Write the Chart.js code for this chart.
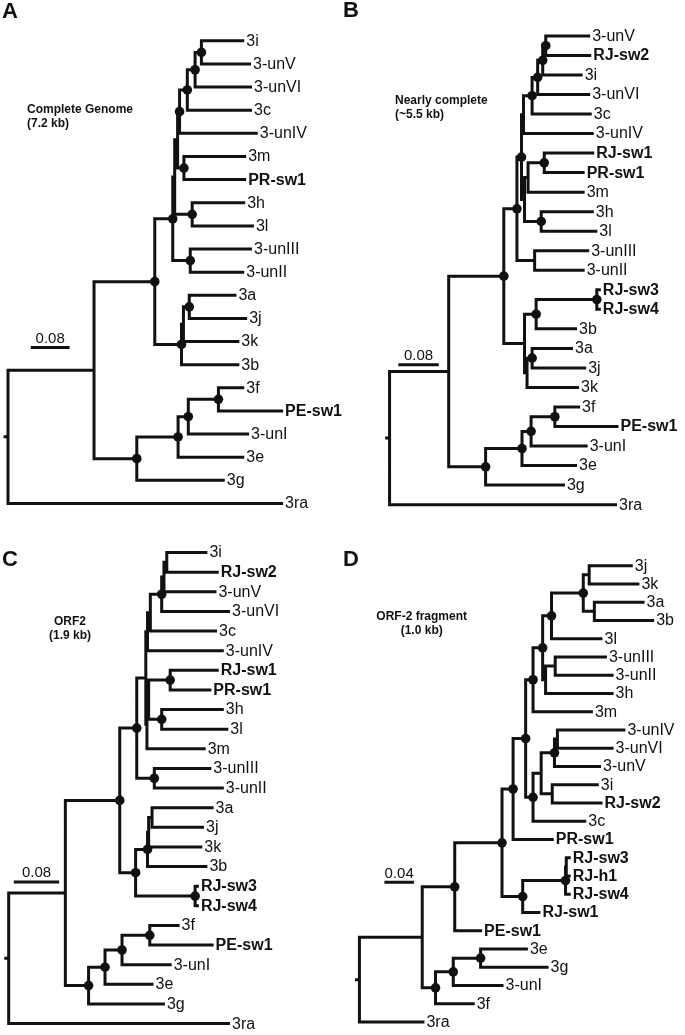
<!DOCTYPE html>
<html>
<head>
<meta charset="utf-8">
<script src="https://cdn.jsdelivr.net/npm/chart.js@4/dist/chart.umd.min.js"></script>
<style>
    html, body { margin: 0; padding: 0; background: #fff; }
    #wrap { position: relative; width: 685px; height: 1035px; }
    canvas { position: absolute; }
</style>
</head>
<body>
<div id="wrap">
    <canvas id="treeA" width="342" height="517" style="left:0;top:0"></canvas>
    <canvas id="treeB" width="343" height="517" style="left:342px;top:0"></canvas>
    <canvas id="treeC" width="342" height="518" style="left:0;top:517px"></canvas>
    <canvas id="treeD" width="343" height="518" style="left:342px;top:517px"></canvas>
</div>
<script>
// Tip labels (top to bottom), depth of each tip from the root (subst./site)
// Internal nodes: [id, depth, children]; supported = nodes marked with a dot
const leavesA = ["3i", "3-unV", "3-unVI", "3c", "3-unIV", "3m", "PR-sw1", "3h", "3l", "3-unIII", "3-unII",
    "3a", "3j", "3k", "3b", "3f", "PE-sw1", "3-unI", "3e", "3g", "3ra"];
const tipDepthA = [0.483, 0.497, 0.499, 0.499, 0.511, 0.487, 0.487, 0.485, 0.503, 0.499, 0.483,
    0.467, 0.489, 0.473, 0.473, 0.483, 0.563, 0.493, 0.483, 0.443, 0.563];
const nodesA = [
    ["root", 0, ["n1", "3ra"]],
    ["n1", 0.177, ["ing", "outg"]],
    ["ing", 0.302, ["X", "abjk"]],
    ["X", 0.339, ["Z", "u32"]],
    ["Z", 0.343, ["W", "hl"]],
    ["W", 0.349, ["up", "mPR"]],
    ["up", 0.353, ["c4", "3-unIV"]],
    ["c4", 0.369, ["c3", "3c"]],
    ["c3", 0.385, ["c2", "3-unVI"]],
    ["c2", 0.398, ["3i", "3-unV"]],
    ["mPR", 0.362, ["3m", "PR-sw1"]],
    ["hl", 0.379, ["3h", "3l"]],
    ["u32", 0.375, ["3-unIII", "3-unII"]],
    ["abjk", 0.357, ["ajk", "3b"]],
    ["ajk", 0.361, ["aj", "3k"]],
    ["aj", 0.373, ["3a", "3j"]],
    ["outg", 0.265, ["oe", "3g"]],
    ["oe", 0.350, ["o1", "3e"]],
    ["o1", 0.371, ["fpe", "3-unI"]],
    ["fpe", 0.433, ["3f", "PE-sw1"]]
];
const supportedA = ["c2", "c3", "c4", "up", "mPR", "hl", "X", "u32", "ing", "aj", "abjk", "fpe", "o1", "oe", "outg"];

const leavesB = ["3-unV", "RJ-sw2", "3i", "3-unVI", "3c", "3-unIV", "RJ-sw1", "PR-sw1", "3m", "3h", "3l",
    "3-unIII", "3-unII", "RJ-sw3", "RJ-sw4", "3b", "3a", "3j", "3k", "3f", "PE-sw1", "3-unI", "3e", "3g", "3ra"];
const tipDepthB = [0.394, 0.396, 0.379, 0.394, 0.397, 0.401, 0.402, 0.383, 0.383, 0.401, 0.408,
    0.392, 0.383, 0.415, 0.415, 0.368, 0.360, 0.386, 0.372, 0.374, 0.450, 0.389, 0.368, 0.344, 0.447];
const nodesB = [
    ["root", 0, ["n1", "3ra"]],
    ["n1", 0.117, ["ing", "outg"]],
    ["ing", 0.226, ["X", "L"]],
    ["X", 0.252, ["Y", "u32"]],
    ["Y", 0.261, ["up", "M"]],
    ["up", 0.265, ["c4", "3-unIV"]],
    ["c4", 0.282, ["c3", "3c"]],
    ["c3", 0.293, ["c2", "3-unVI"]],
    ["c2", 0.303, ["c1", "3i"]],
    ["c1", 0.309, ["3-unV", "RJ-sw2"]],
    ["M", 0.267, ["rpm", "hl"]],
    ["rpm", 0.274, ["rp", "3m"]],
    ["rp", 0.306, ["RJ-sw1", "PR-sw1"]],
    ["hl", 0.300, ["3h", "3l"]],
    ["u32", 0.287, ["3-unIII", "3-unII"]],
    ["L", 0.267, ["r34b", "ajk"]],
    ["r34b", 0.290, ["r34", "3b"]],
    ["r34", 0.410, ["RJ-sw3", "RJ-sw4"]],
    ["ajk", 0.272, ["aj", "3k"]],
    ["aj", 0.282, ["3a", "3j"]],
    ["outg", 0.190, ["oe", "3g"]],
    ["oe", 0.262, ["o1", "3e"]],
    ["o1", 0.280, ["fpe", "3-unI"]],
    ["fpe", 0.327, ["3f", "PE-sw1"]]
];
const supportedB = ["c1", "c2", "c3", "c4", "Y", "rp", "X", "hl", "ing", "r34", "r34b", "aj", "fpe", "o1", "oe", "outg"];

const leavesC = ["3i", "RJ-sw2", "3-unV", "3-unVI", "3c", "3-unIV", "RJ-sw1", "PR-sw1", "3h", "3l", "3m",
    "3-unIII", "3-unII", "3a", "3j", "3k", "3b", "RJ-sw3", "RJ-sw4", "3f", "PE-sw1", "3-unI", "3e", "3g", "3ra"];
const tipDepthC = [0.348, 0.368, 0.364, 0.388, 0.365, 0.377, 0.368, 0.355, 0.377, 0.385, 0.345,
    0.355, 0.377, 0.359, 0.342, 0.339, 0.348, 0.333, 0.333, 0.299, 0.359, 0.285, 0.253, 0.273, 0.388];
const nodesC = [
    ["root", 0, ["n1", "3ra"]],
    ["n1", 0.100, ["ing", "outg"]],
    ["ing", 0.196, ["X", "L"]],
    ["X", 0.226, ["Y", "u32"]],
    ["Y", 0.242, ["up", "M"]],
    ["up", 0.245, ["c3", "3-unIV"]],
    ["c3", 0.250, ["c2", "3c"]],
    ["c2", 0.270, ["c1", "3-unVI"]],
    ["c1", 0.274, ["c0", "3-unV"]],
    ["c0", 0.279, ["3i", "RJ-sw2"]],
    ["M", 0.244, ["mm", "3m"]],
    ["mm", 0.247, ["rp", "hl"]],
    ["rp", 0.285, ["RJ-sw1", "PR-sw1"]],
    ["hl", 0.270, ["3h", "3l"]],
    ["u32", 0.257, ["3-unIII", "3-unII"]],
    ["L", 0.224, ["abjk", "r34"]],
    ["abjk", 0.245, ["ajk", "3b"]],
    ["ajk", 0.247, ["aj", "3k"]],
    ["aj", 0.253, ["3a", "3j"]],
    ["r34", 0.329, ["RJ-sw3", "RJ-sw4"]],
    ["outg", 0.141, ["oe", "3g"]],
    ["oe", 0.170, ["o1", "3e"]],
    ["o1", 0.200, ["fpe", "3-unI"]],
    ["fpe", 0.249, ["3f", "PE-sw1"]]
];
const supportedC = ["c2", "rp", "hl", "X", "u32", "ing", "L", "abjk", "r34", "fpe", "o1", "oe", "outg"];

const leavesD = ["3j", "3k", "3a", "3b", "3l", "3-unIII", "3-unII", "3h", "3m", "3-unIV", "3-unVI", "3-unV",
    "3i", "RJ-sw2", "3c", "PR-sw1", "RJ-sw3", "RJ-h1", "RJ-sw4", "RJ-sw1", "PE-sw1", "3e", "3g", "3-unI", "3f", "3ra"];
const tipDepthD = [0.368, 0.377, 0.384, 0.397, 0.327, 0.333, 0.342, 0.342, 0.314, 0.358, 0.342, 0.325,
    0.322, 0.327, 0.305, 0.261, 0.284, 0.284, 0.284, 0.243, 0.164, 0.226, 0.254, 0.193, 0.154, 0.086];
const nodesD = [
    ["root", 0, ["n1", "3ra"]],
    ["n1", 0.085, ["ing", "outg"]],
    ["ing", 0.129, ["big", "PE-sw1"]],
    ["big", 0.193, ["U", "rj"]],
    ["U", 0.208, ["V", "PR-sw1"]],
    ["V", 0.225, ["W", "Q"]],
    ["W", 0.235, ["K", "3m"]],
    ["K", 0.248, ["G1l", "h32"]],
    ["G1l", 0.260, ["G1", "3l"]],
    ["G1", 0.303, ["jk", "ab"]],
    ["jk", 0.311, ["3j", "3k"]],
    ["ab", 0.318, ["3a", "3b"]],
    ["h32", 0.252, ["u32", "3h"]],
    ["u32", 0.265, ["3-unIII", "3-unII"]],
    ["Q", 0.235, ["Q1", "3c"]],
    ["Q1", 0.246, ["vv", "iR"]],
    ["vv", 0.264, ["v46", "3-unV"]],
    ["v46", 0.268, ["3-unIV", "3-unVI"]],
    ["iR", 0.261, ["3i", "RJ-sw2"]],
    ["rj", 0.221, ["rjh", "RJ-sw1"]],
    ["rjh", 0.279, ["rj3h", "RJ-sw4"]],
    ["rj3h", 0.280, ["RJ-sw3", "RJ-h1"]],
    ["outg", 0.103, ["oo", "3f"]],
    ["oo", 0.127, ["eg", "3-unI"]],
    ["eg", 0.164, ["3e", "3g"]]
];
const supportedD = ["G1", "G1l", "K", "W", "V", "vv", "Q", "U", "big", "rjh", "rj", "ing", "eg", "oo", "outg"];

// isolates from this study are set in bold
const studyIsolates = ["PR-sw1", "PE-sw1", "RJ-sw1", "RJ-sw2", "RJ-sw3", "RJ-sw4", "RJ-h1"];
const scaleBars = [0.08, 0.08, 0.08, 0.04];
const panelTitles = [
    ["Complete Genome", "(7.2 kb)"],
    ["Nearly complete", "(~5.5 kb)"],
    ["ORF2", "(1.9 kb)"],
    ["ORF-2 fragment", "(1.0 kb)"]
];

// page geometry of each panel (pixels)
const panels = [
    { canvas: "treeA", letter: "A", leaves: leavesA, tips: tipDepthA, nodes: nodesA, dots: supportedA,
      box: [0, 0, 342, 517], rootPx: 3.3, pxPerUnit: 500, leafTop: 36.7, leafStep: 23.57,
      barAt: [26.7, 349.3], letterAt: [2, 12], titleAt: [27, 110], titleAlign: "left" },
    { canvas: "treeB", letter: "B", leaves: leavesB, tips: tipDepthB, nodes: nodesB, dots: supportedB,
      box: [342, 0, 343, 517], rootPx: 386, pxPerUnit: 520, leafTop: 31.7, leafStep: 19.9,
      barAt: [395, 366.7], letterAt: [343, 11], titleAt: [395, 101], titleAlign: "left" },
    { canvas: "treeC", letter: "C", leaves: leavesC, tips: tipDepthC, nodes: nodesC, dots: supportedC,
      box: [0, 517, 342, 518], rootPx: 4, pxPerUnit: 583, leafTop: 548.3, leafStep: 20,
      barAt: [9.3, 884], letterAt: [2, 560], titleAt: [70, 622], titleAlign: "center" },
    { canvas: "treeD", letter: "D", leaves: leavesD, tips: tipDepthD, nodes: nodesD, dots: supportedD,
      box: [342, 517, 343, 518], rootPx: 355, pxPerUnit: 760, leafTop: 561.7, leafStep: 18.6,
      barAt: [380.7, 884.3], letterAt: [343, 560], titleAt: [421.7, 617], titleAlign: "center" }
];

const FONT = '"Liberation Sans", Arial, Helvetica, sans-serif';
const INK = "#111";

// place tips at their row, internal nodes half way between first and last child
function layoutTree(leaves, tips, nodes) {
    const pos = {};
    leaves.forEach(function (name, i) {
        pos[name] = { x: tips[i], y: i };
    });
    const byId = {};
    nodes.forEach(function (n) { byId[n[0]] = n; });
    function place(id) {
        if (pos[id]) return pos[id];
        const n = byId[id];
        const ys = n[2].map(function (c) { return place(c).y; });
        pos[id] = { x: n[1], y: (Math.min.apply(null, ys) + Math.max.apply(null, ys)) / 2 };
        return pos[id];
    }
    nodes.forEach(function (n) { place(n[0]); });
    return pos;
}

function branchPoints(pos, nodes, stem) {
    const pts = [];
    const gap = { x: null, y: null };
    nodes.forEach(function (n) {
        const p = pos[n[0]];
        const kids = n[2].map(function (c) { return pos[c]; }).sort(function (a, b) { return a.y - b.y; });
        const first = kids[0], last = kids[kids.length - 1];
        pts.push({ x: first.x, y: first.y }, { x: p.x, y: first.y }, { x: p.x, y: last.y }, { x: last.x, y: last.y }, gap);
        kids.slice(1, -1).forEach(function (k) {
            pts.push({ x: p.x, y: k.y }, { x: k.x, y: k.y }, gap);
        });
    });
    const r = pos["root"];
    pts.push({ x: stem, y: r.y }, { x: 0, y: r.y }, gap);
    return pts;
}

panels.forEach(function (pn, idx) {
    const pos = layoutTree(pn.leaves, pn.tips, pn.nodes);
    const left = pn.box[0], top = pn.box[1], w = pn.box[2], h = pn.box[3];
    const toX = function (px) { return (px - pn.rootPx) / pn.pxPerUnit; };
    const toY = function (py) { return (py - pn.leafTop) / pn.leafStep; };

    const barX = toX(pn.barAt[0]), barY = toY(pn.barAt[1]);
    const stem = toX(pn.rootPx - 3);

    const labelPlugin = {
        id: "treeText" + pn.letter,
        afterDatasetsDraw: function (chart) {
            const ctx = chart.ctx;
            const xs = chart.scales.x, ys = chart.scales.y;
            ctx.save();
            ctx.fillStyle = INK;
            ctx.textBaseline = "middle";
            ctx.textAlign = "left";
            pn.leaves.forEach(function (name, i) {
                const bold = studyIsolates.indexOf(name) >= 0;
                ctx.font = (bold ? "bold " : "") + "16px " + FONT;
                ctx.fillText(name, xs.getPixelForValue(pn.tips[i]) + 3.5, ys.getPixelForValue(i) + 0.5);
            });
            // scale bar label
            ctx.font = "15px " + FONT;
            ctx.textAlign = "center";
            ctx.textBaseline = "alphabetic";
            const bx0 = xs.getPixelForValue(barX), bx1 = xs.getPixelForValue(barX + scaleBars[idx]);
            ctx.fillText(String(scaleBars[idx]), (bx0 + bx1) / 2, ys.getPixelForValue(barY) - 4.5);
            // panel letter
            ctx.font = "bold 22px " + FONT;
            ctx.textAlign = "left";
            ctx.textBaseline = "middle";
            ctx.fillText(pn.letter, pn.letterAt[0] - left, pn.letterAt[1] - top);
            // panel title
            ctx.font = "bold 12px " + FONT;
            ctx.textAlign = pn.titleAlign;
            panelTitles[idx].forEach(function (line, k) {
                ctx.fillText(line, pn.titleAt[0] - left, pn.titleAt[1] - top + k * 14);
            });
            ctx.restore();
        }
    };

    new Chart(document.getElementById(pn.canvas).getContext("2d"), {
        type: "scatter",
        data: {
            datasets: [
                {
                    label: "branches",
                    data: branchPoints(pos, pn.nodes, stem),
                    showLine: true,
                    spanGaps: false,
                    borderColor: INK,
                    borderWidth: 3,
                    borderCapStyle: "square",
                    borderJoinStyle: "miter",
                    pointRadius: 0,
                    clip: false,
                },
                {
                    label: "scale",
                    data: [{ x: barX, y: barY }, { x: barX + scaleBars[idx], y: barY }],
                    showLine: true,
                    borderColor: INK,
                    borderWidth: 3,
                    pointRadius: 0,
                },
                {
                    label: "support",
                    data: pn.dots.map(function (id) { return pos[id]; }),
                    pointRadius: 4.8,
                    pointBackgroundColor: INK,
                    pointBorderWidth: 0,
                    showLine: false,
                },
            ],
        },
        options: {
            responsive: false,
            animation: false,
            events: [],
            layout: { padding: 0 },
            plugins: { legend: { display: false }, tooltip: { enabled: false } },
            scales: {
                x: { type: "linear", display: false, min: toX(left), max: toX(left + w) },
                y: { type: "linear", display: false, reverse: true, min: toY(top), max: toY(top + h) },
            },
        },
        plugins: [labelPlugin],
    });
});
</script>
</body>
</html>
